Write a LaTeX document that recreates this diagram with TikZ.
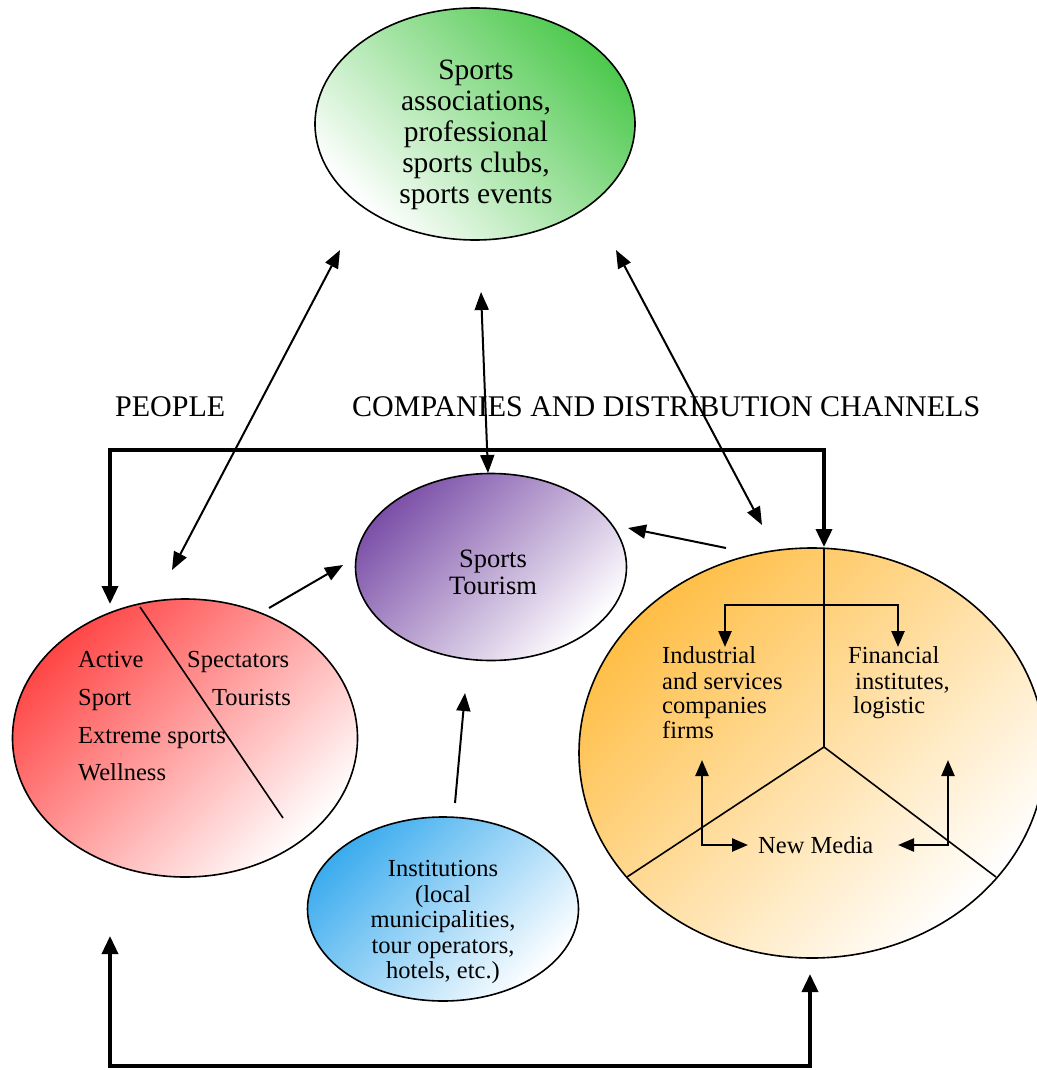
\documentclass[tikz,border=0pt]{standalone}
\usepackage{fontspec}
\setmainfont{Liberation Serif}
\usetikzlibrary{shapes.geometric,arrows.meta}
\definecolor{cgreen}{RGB}{78,201,78}
\definecolor{cpurple}{RGB}{124,80,168}
\definecolor{cred}{RGB}{255,70,70}
\definecolor{cblue}{RGB}{60,172,238}
\definecolor{corange}{RGB}{255,190,70}
\tikzset{
  ell/.style={ellipse, draw=black, line width=1.6pt, inner sep=0pt, bottom color=white},
  biarr/.style={line width=2pt, {Triangle[length=18pt,width=14pt]}-{Triangle[length=18pt,width=14pt]}},
  onearr/.style={line width=2pt, -{Triangle[length=18pt,width=14pt]}},
  framearr/.style={line width=3.6pt, {Triangle[length=18pt,width=16pt]}-{Triangle[length=18pt,width=16pt]}},
  inarr/.style={line width=2.4pt, -{Triangle[length=16pt,width=13pt]}},
  inbi/.style={line width=2.4pt, {Triangle[length=16pt,width=13pt]}-{Triangle[length=16pt,width=13pt]}},
  divline/.style={line width=1.6pt},
  bigtxt/.style={align=center, inner sep=0pt, font=\fontsize{29.5pt}{31pt}\selectfont},
  midtxt/.style={align=center, inner sep=0pt, font=\fontsize{26.5pt}{27pt}\selectfont},
  smtxt/.style={align=center, inner sep=0pt, font=\fontsize{24.5pt}{25.5pt}\selectfont},
  ltxt/.style={anchor=base west, inner sep=0pt, font=\fontsize{24.5pt}{25pt}\selectfont},
  lbl/.style={anchor=base west, inner sep=0pt, font=\fontsize{30pt}{31pt}\selectfont}
}
\begin{document}
\begin{tikzpicture}[x=1pt,y=-1pt]
\useasboundingbox (0,0) rectangle (1036,1070);

% ellipses
\node[ell, top color=cgreen, shading angle=-45, minimum width=320pt, minimum height=232pt] (green) at (475,124) {};
\node[ell, top color=cpurple, shading angle=45, minimum width=271pt, minimum height=187pt] (purple) at (491,567) {};
\node[ell, top color=cred, shading angle=45, minimum width=345pt, minimum height=278pt] (red) at (185,738) {};
\node[ell, top color=cblue, shading angle=45, minimum width=271pt, minimum height=184pt] (blue) at (443,909) {};
\node[ell, top color=corange, shading angle=45, minimum width=466pt, minimum height=410pt] (orange) at (812,753) {};

% texts
\node[bigtxt] (greent) at (476,135) {Sports\\associations,\\professional\\sports clubs,\\sports events};
\node[midtxt] (purplet) at (493,572) {Sports\\Tourism};
\node[smtxt] (bluet) at (443,922) {Institutions\\(local\\municipalities,\\tour operators,\\hotels, etc.)};

\node[ltxt] (ract) at (78,667) {Active};
\node[ltxt] (rsport) at (78,705) {Sport};
\node[ltxt] (rext) at (78,743) {Extreme sports};
\node[ltxt] (rwell) at (78,780) {Wellness};
\node[ltxt] (rspec) at (187,667) {Spectators};
\node[ltxt] (rtour) at (212,705) {Tourists};

\node[ltxt] (oind) at (662,663) {Industrial};
\node[ltxt] (oand) at (662,689) {and services};
\node[ltxt] (ocomp) at (662,713) {companies};
\node[ltxt] (ofirm) at (662,738) {firms};
\node[ltxt] (ofin) at (848,663) {Financial};
\node[ltxt] (oinst) at (855,689) {institutes,};
\node[ltxt] (olog) at (853,713) {logistic};
\node[ltxt] (onew) at (758,853) {New Media};

\node[lbl] (people) at (115,416) {PEOPLE};
\node[lbl] (comp) at (352,416) {COMPANIES AND DISTRIBUTION CHANNELS};

% coordinates
\coordinate (rdA) at (140,607);
\coordinate (rdB) at (283,818);
\coordinate (oTop) at (824,548);
\coordinate (oMid) at (824,747);
\coordinate (oL) at (627,877);
\coordinate (oR) at (996,877);
\coordinate (oBr) at (824,605);
\coordinate (oIndT) at (725,647);
\coordinate (oFinT) at (898,647);
\coordinate (nmL1) at (702,760);
\coordinate (nmL2) at (748,845);
\coordinate (nmR1) at (948,760);
\coordinate (nmR2) at (898,845);

\coordinate (gr1) at (340,250);
\coordinate (gr2) at (172,570);
\coordinate (gp1) at (481,292);
\coordinate (gp2) at (488,473);
\coordinate (go1) at (616,250);
\coordinate (go2) at (762,525);
\coordinate (rp1) at (269,608);
\coordinate (rp2) at (343,565);
\coordinate (op1) at (726,548);
\coordinate (op2) at (628,528);
\coordinate (bp1) at (455,803);
\coordinate (bp2) at (465,693);

\coordinate (ftL) at (110,604);
\coordinate (ftR) at (824,547);
\coordinate (fbL) at (110,936);
\coordinate (fbR) at (810,974);

% dividing lines
\draw[divline] (rdA) -- (rdB);
\draw[divline] (oTop) -- (oMid) -- (oL);
\draw[divline] (oMid) -- (oR);

% inner arrows
\draw[inarr] (oBr) -| (oIndT);
\draw[inarr] (oBr) -| (oFinT);
\draw[inbi] (nmL1) |- (nmL2);
\draw[inbi] (nmR1) |- (nmR2);

% connectors
\draw[biarr] (gr1) -- (gr2);
\draw[biarr] (gp1) -- (gp2);
\draw[biarr] (go1) -- (go2);
\draw[onearr] (rp1) -- (rp2);
\draw[onearr] (op1) -- (op2);
\draw[onearr] (bp1) -- (bp2);

% frame arrows
\draw[framearr] (ftL) -- (110,450) -- (824,450) -- (ftR);
\draw[framearr] (fbL) -- (110,1066) -- (810,1066) -- (fbR);
\end{tikzpicture}
\end{document}
